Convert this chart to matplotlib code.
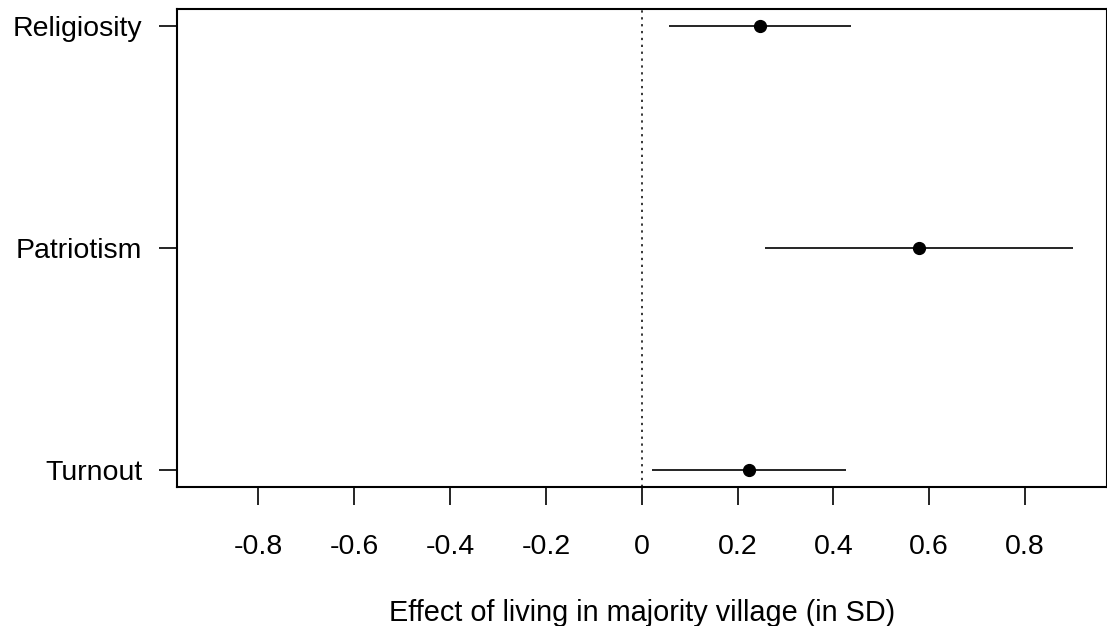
import matplotlib
matplotlib.use("Agg")
import matplotlib.pyplot as plt

# ── data ──────────────────────────────────────────────────────────────────────
outcomes = ["Turnout", "Patriotism", "Religiosity"]
estimates = [0.224, 0.579, 0.246]
ci_low = [0.021, 0.257, 0.056]
ci_high = [0.427, 0.901, 0.436]
xticks = [-0.8, -0.6, -0.4, -0.2, 0, 0.2, 0.4, 0.6, 0.8]
xtick_labels = ["-0.8", "-0.6", "-0.4", "-0.2", "0", "0.2", "0.4", "0.6", "0.8"]

plt.rcParams["font.family"] = ["Liberation Sans", "DejaVu Sans"]

W, H = 1107, 626
fig = plt.figure(figsize=(W / 100, H / 100), dpi=100)
left, right, top, bottom = 177, 1106.5, 9, 487
ax = fig.add_axes([left / W, 1 - bottom / H, (right - left) / W, (bottom - top) / H])

ypos = list(range(1, len(outcomes) + 1))
for y, est, lo, hi in zip(ypos, estimates, ci_low, ci_high):
    ax.plot([lo, hi], [y, y], color="black", linewidth=1.2, solid_capstyle="butt")
    ax.plot(est, y, "o", color="black", markersize=8.5)

ax.axvline(0, color="black", linestyle=(0, (1.5, 3)), linewidth=1.1)

ax.set_xlim(-0.97, 0.97)
ax.set_ylim(0.923, 3.077)
ax.set_xticks(xticks)
ax.set_xticklabels(xtick_labels)
ax.set_yticks(ypos)
ax.set_yticklabels(outcomes)
ax.tick_params(axis="both", length=13, width=1.2, labelsize=20.5, pad=12, color="black")
ax.tick_params(axis="x", pad=21)

for sp in ax.spines.values():
    sp.set_linewidth(1.5)

ax.set_xlabel("Effect of living in majority village (in SD)", fontsize=20.8, labelpad=28)

fig.savefig("out.png", dpi=100)
